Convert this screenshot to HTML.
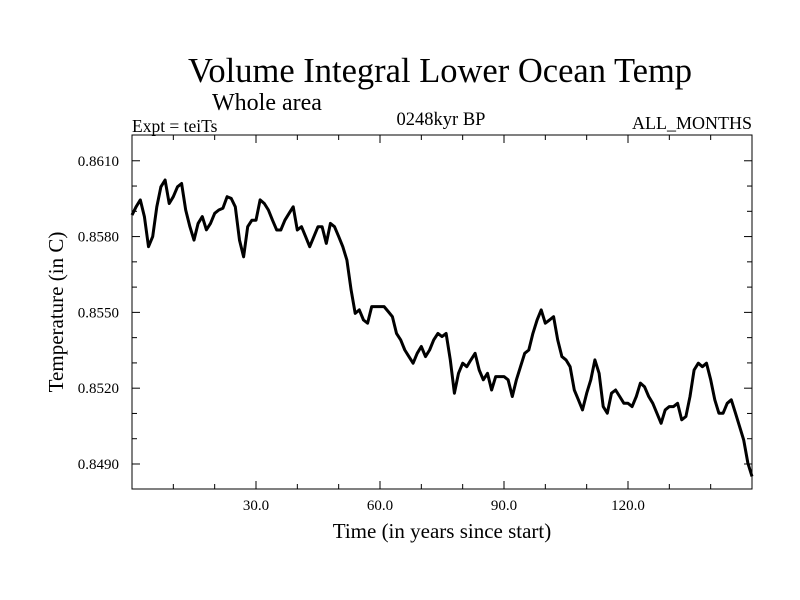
<!DOCTYPE html>
<html><head><meta charset="utf-8"><style>
body{margin:0;background:#fff;}
svg{display:block;font-family:"Liberation Serif",serif;}
</style></head><body>
<svg id="chart" width="800" height="600" viewBox="0 0 800 600">
<rect width="800" height="600" fill="#fff"/>
<text x="440" y="82" font-size="34.5" text-anchor="middle">Volume Integral Lower Ocean Temp</text>
<text x="212" y="110" font-size="24">Whole area</text>
<text x="132" y="132" font-size="17.5">Expt = teiTs</text>
<text x="441" y="125" font-size="18.5" text-anchor="middle">0248kyr BP</text>
<text x="752" y="129" font-size="18" text-anchor="end">ALL_MONTHS</text>
<text x="442" y="538" font-size="21" text-anchor="middle">Time (in years since start)</text>
<text transform="translate(63,312) rotate(-90)" font-size="21" text-anchor="middle">Temperature (in C)</text>
<g id="axes"></g>
<rect x="132" y="135" width="620" height="354" fill="none" stroke="#000" stroke-width="1"/>
</svg>
<script>
const years = [];
for (let i = 0; i <= 150; i++) years.push(i);
const temps = [
.85885,.85918,.85945,.85879,.85760,.85800,.85918,.85997,.86024,.85931,
.85958,.85997,.86010,.85905,.85839,.85786,.85852,.85879,.85827,.85852,
.85892,.85905,.85912,.85958,.85951,.85918,.85786,.85720,.85839,.85865,
.85865,.85945,.85931,.85905,.85865,.85826,.85826,.85865,.85892,.85918,
.85826,.85839,.85800,.85760,.85800,.85839,.85839,.85773,.85852,.85839,
.85800,.85760,.85707,.85589,.85496,.85510,.85470,.85457,.85523,.85523,
.85523,.85523,.85503,.85483,.85417,.85391,.85351,.85325,.85299,.85338,
.85365,.85325,.85351,.85391,.85417,.85404,.85417,.85312,.85180,.85259,
.85299,.85285,.85312,.85338,.85272,.85233,.85259,.85193,.85246,.85246,
.85246,.85233,.85167,.85233,.85285,.85338,.85351,.85417,.85470,.85510,
.85457,.85470,.85483,.85391,.85325,.85312,.85285,.85193,.85154,.85114,
.85180,.85233,.85312,.85259,.85127,.85101,.85180,.85193,.85167,.85140,
.85140,.85127,.85167,.85220,.85206,.85167,.85140,.85101,.85061,.85114,
.85127,.85127,.85140,.85075,.85088,.85167,.85272,.85299,.85285,.85299,
.85233,.85154,.85101,.85101,.85140,.85154,.85101,.85048,.84995,.84903,
.84851];
const xTickValues = [30, 60, 90, 120];
const xTickLabels = ["30.0", "60.0", "90.0", "120.0"];
const yTickValues = [0.861, 0.858, 0.855, 0.852, 0.849];
const yTickLabels = ["0.8610", "0.8580", "0.8550", "0.8520", "0.8490"];

const L = 132, R = 752, T = 135, B = 489;
const xMin = 0, xMax = 150, yMin = 0.84801, yMax = 0.86202;
const X = v => L + (v - xMin) / (xMax - xMin) * (R - L);
const Y = v => B - (v - yMin) / (yMax - yMin) * (B - T);
const NS = "http://www.w3.org/2000/svg";
const g = document.getElementById('axes');
function mk(tag, attrs) {
  const e = document.createElementNS(NS, tag);
  for (const k in attrs) e.setAttribute(k, attrs[k]);
  g.appendChild(e);
  return e;
}
for (let v = 10; v < xMax; v += 10) {
  const major = v % 30 === 0, len = major ? 8 : 5;
  const t1 = mk('line', {x1: X(v), x2: X(v), y1: B, y2: B - len, stroke: '#000'});
  
  
  const t2 = mk('line', {x1: X(v), x2: X(v), y1: T, y2: T + len, stroke: '#000'});
  
  
}
xTickValues.forEach((v, i) => {
  const t = mk('text', {x: X(v), y: 510, 'font-size': 15, 'text-anchor': 'middle'});
  t.textContent = xTickLabels[i];
  
  
});
for (let k = 849; k <= 861; k++) {
  const v = k / 1000, major = (k - 849) % 3 === 0, len = major ? 8 : 5;
  const t1 = mk('line', {x1: L, x2: L + len, y1: Y(v), y2: Y(v), stroke: '#000'});
  
  
  const t2 = mk('line', {x1: R, x2: R - len, y1: Y(v), y2: Y(v), stroke: '#000'});
  
  
}
yTickValues.forEach((v, i) => {
  const t = mk('text', {x: 119, y: Y(v) + 5, 'font-size': 15, 'text-anchor': 'end'});
  t.textContent = yTickLabels[i];
  
  
});
const d = years.map((yr, i) => (i ? 'L' : 'M') + X(yr).toFixed(1) + ',' + Y(temps[i]).toFixed(1)).join('');
const line = mk('path', {d: d, fill: 'none', stroke: '#000', 'stroke-width': 3, 'stroke-linejoin': 'round'});


</script>
</body></html>
